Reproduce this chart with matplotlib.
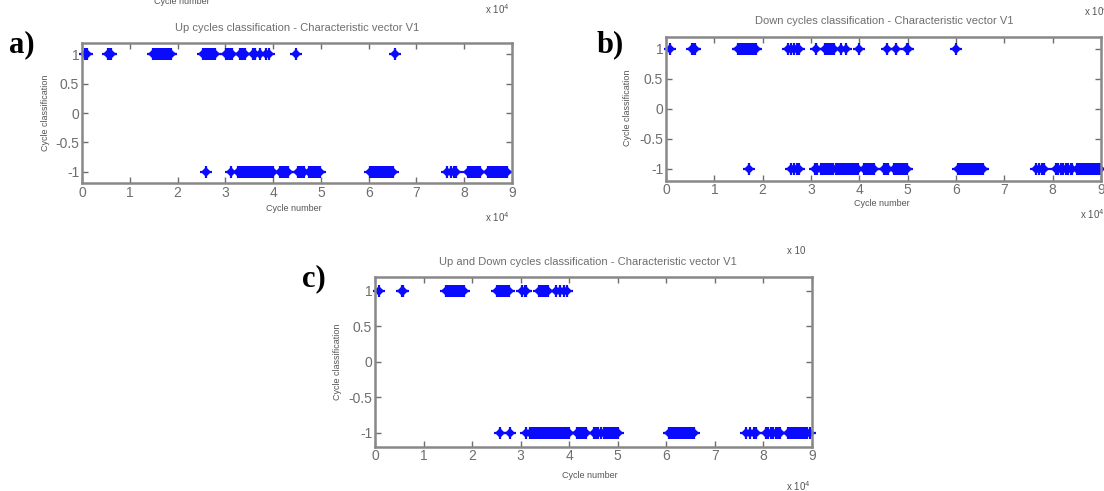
import matplotlib
matplotlib.use("Agg")
import matplotlib.pyplot as plt

plt.rcParams['font.family'] = ['Liberation Sans', 'DejaVu Sans']

# ---- data (cycle number, in units of 10^4) ----
a_up = [0.06, 0.10, 0.55, 0.58, 0.61,
        1.48, 1.52, 1.55, 1.58, 1.61, 1.64, 1.67, 1.70, 1.73, 1.76, 1.79, 1.82, 1.85, 1.87,
        2.53, 2.57, 2.61, 2.64, 2.68, 2.72, 2.75, 2.78,
        3.01, 3.05, 3.09, 3.13, 3.30, 3.34, 3.38, 3.41, 3.58, 3.62, 3.72, 3.85, 3.92,
        4.47, 6.55]
a_down = [2.60, 3.11, 3.27, 3.31, 3.35, 3.39, 3.43, 3.47, 3.51, 3.55, 3.59, 3.63, 3.67,
          3.71, 3.75, 3.79, 3.83, 3.87, 3.91, 3.95, 3.99,
          4.15, 4.19, 4.23, 4.27, 4.31,
          4.52, 4.56, 4.60, 4.64,
          4.76, 4.80, 4.84, 4.88, 4.92, 4.96, 4.99,
          6.03, 6.07, 6.11, 6.15, 6.19, 6.23, 6.27, 6.31, 6.35, 6.39, 6.43, 6.47, 6.51,
          7.63, 7.72, 7.78, 7.83,
          8.08, 8.12, 8.16, 8.20, 8.24, 8.28, 8.32,
          8.50, 8.54, 8.58, 8.62, 8.66, 8.70, 8.74, 8.78, 8.82, 8.86, 8.90]

b_up = [0.08, 0.53, 0.57, 0.61,
        1.48, 1.51, 1.54, 1.57, 1.60, 1.63, 1.66, 1.69, 1.72, 1.75, 1.78, 1.81, 1.84, 1.86,
        2.52, 2.58, 2.64, 2.70, 2.76,
        3.10, 3.29, 3.33, 3.37, 3.41, 3.45, 3.48, 3.62, 3.72, 3.99,
        4.58, 4.76, 4.98, 5.00, 6.00]
b_down = [1.71, 2.59, 2.65, 2.71, 2.76,
          3.09, 3.13, 3.21, 3.25, 3.29, 3.33, 3.37, 3.41, 3.45, 3.52, 3.56, 3.60, 3.64,
          3.68, 3.72, 3.76, 3.80, 3.84, 3.88, 3.92, 3.96, 3.98,
          4.10, 4.14, 4.18, 4.22, 4.26, 4.30,
          4.50, 4.55, 4.60,
          4.72, 4.76, 4.80, 4.84, 4.88, 4.92, 4.96, 4.99,
          6.05, 6.08, 6.11, 6.14, 6.17, 6.20, 6.23, 6.26, 6.29, 6.32, 6.35, 6.38, 6.41,
          6.44, 6.47, 6.50, 6.53, 6.56,
          7.66, 7.72, 7.78, 7.83,
          8.07, 8.12, 8.17, 8.22, 8.27, 8.32, 8.37, 8.40,
          8.50, 8.54, 8.58, 8.62, 8.66, 8.70, 8.74, 8.78, 8.82, 8.86, 8.90, 8.94, 8.98]

c_up = [0.08, 0.55, 0.58,
        1.47, 1.50, 1.53, 1.56, 1.59, 1.62, 1.65, 1.68, 1.71, 1.74, 1.77, 1.80, 1.84,
        2.52, 2.56, 2.60, 2.64, 2.68, 2.72, 2.75,
        3.03, 3.08, 3.12, 3.38, 3.42, 3.46, 3.50, 3.54, 3.57, 3.72, 3.80, 3.90, 3.96]
c_down = [2.57, 2.79, 3.10, 3.20, 3.24, 3.28, 3.32, 3.36, 3.40, 3.44, 3.48, 3.52, 3.56,
          3.60, 3.64, 3.68, 3.72, 3.76, 3.80, 3.84, 3.88, 3.92, 3.96, 4.00,
          4.15, 4.19, 4.23, 4.27, 4.31, 4.35,
          4.50, 4.55, 4.60, 4.65,
          4.72, 4.76, 4.80, 4.84, 4.88, 4.92, 4.96, 5.00,
          6.05, 6.08, 6.11, 6.14, 6.17, 6.20, 6.23, 6.26, 6.29, 6.32, 6.35, 6.38, 6.41,
          6.44, 6.47, 6.50, 6.53, 6.56,
          7.64, 7.72, 7.80, 7.85,
          8.05, 8.10, 8.15, 8.20, 8.25, 8.30, 8.35,
          8.50, 8.54, 8.58, 8.62, 8.66, 8.70, 8.74, 8.78, 8.82, 8.86, 8.90, 8.95]

titles = ["Up cycles classification - Characteristic vector V1",
          "Down cycles classification - Characteristic vector V1",
          "Up and Down cycles classification - Characteristic vector V1"]
panel_labels = ["a)", "b)", "c)"]
xticks = [0, 1, 2, 3, 4, 5, 6, 7, 8, 9]
yticks = [-1, -0.5, 0, 0.5, 1]
ytick_labels = ["-1", "-0.5", "0", "0.5", "1"]

W, H = 1104, 491
fig = plt.figure(figsize=(W / 100, H / 100), dpi=100)
fig.patch.set_facecolor("white")


def fx(x):
    return x / W


def fy(y):
    return 1 - y / H


GRAY = "#6e6e6e"
LGRAY = "#555555"
BLUE = "#0a0aff"

# axes boxes in pixels: left, top, right, bottom
boxes = [(82, 42.7, 512, 183.3), (666, 36.7, 1101, 180.7), (375, 276.7, 812, 446.7)]
data = [(a_up, a_down), (b_up, b_down), (c_up, c_down)]

axes = []
for (l, t, r, b), (up, down), title in zip(boxes, data, titles):
    ax = fig.add_axes([fx(l), fy(b), (r - l) / W, (b - t) / H])
    for xs, yv in ((up, 1), (down, -1)):
        ys = [yv] * len(xs)
        ax.plot(xs, ys, linestyle="none", marker="D", markersize=4.6,
                color=BLUE, markeredgewidth=0, clip_on=False)
        ax.plot(xs, ys, linestyle="none", marker="+", markersize=8,
                color=BLUE, markeredgewidth=1.6, clip_on=False)
    ax.set_xlim(0, 9)
    ax.set_ylim(-1.2, 1.2)
    ax.set_xticks(xticks)
    ax.set_xticklabels([str(v) for v in xticks])
    ax.set_yticks(yticks)
    ax.set_yticklabels(ytick_labels)
    ax.tick_params(direction="in", top=True, right=True, length=4, width=1,
                   color=GRAY, labelcolor=GRAY, labelsize=10, pad=2)
    for s in ax.spines.values():
        s.set_color("#888888")
        s.set_linewidth(1.8)
    axes.append(ax)

# titles
fig.text(fx(297), fy(28), titles[0], ha="center", va="center", fontsize=8, color=GRAY)
fig.text(fx(884), fy(21), titles[1], ha="center", va="center", fontsize=8, color=GRAY)
fig.text(fx(588), fy(262), titles[2], ha="center", va="center", fontsize=8, color=GRAY)

# x labels
fig.text(fx(294), fy(208), "Cycle number", ha="center", va="center", fontsize=6.5, color=LGRAY)
fig.text(fx(882), fy(204), "Cycle number", ha="center", va="center", fontsize=6.5, color=LGRAY)
fig.text(fx(590), fy(475), "Cycle number", ha="center", va="center", fontsize=6.5, color=LGRAY)

# y labels
fig.text(fx(45), fy(113), "Cycle classification", ha="center", va="center", rotation=90,
         fontsize=6.5, color=LGRAY)
fig.text(fx(628), fy(108), "Cycle classification", ha="center", va="center", rotation=90,
         fontsize=6.5, color=LGRAY)
fig.text(fx(337), fy(362), "Cycle classification", ha="center", va="center", rotation=90,
         fontsize=6.5, color=LGRAY)

# exponent labels
for x, y in [(497, 217), (1092, 214), (798, 486)]:
    fig.text(fx(x), fy(y), r"x 10$^{4}$", ha="center", va="center", fontsize=7, color=LGRAY)
# cropped remnants at the tops of the panels
fig.text(fx(497), fy(9), r"x 10$^{4}$", ha="center", va="center", fontsize=7, color=LGRAY)
fig.text(fx(1096), fy(11), r"x 10$^{4}$", ha="center", va="center", fontsize=7, color=LGRAY)
fig.text(fx(796), fy(251), "x 10", ha="center", va="center", fontsize=7, color=LGRAY)
fig.text(fx(182), fy(1), "Cycle number", ha="center", va="center", fontsize=6.5, color=LGRAY)

# panel letters
for (x, y), lab in zip([(9, 45), (597, 45), (302, 279)], panel_labels):
    fig.text(fx(x), fy(y), lab, ha="left", va="center", fontsize=22, fontweight="bold",
             family="Liberation Serif", color="black")

fig.savefig("out.png", dpi=100, facecolor="white")
